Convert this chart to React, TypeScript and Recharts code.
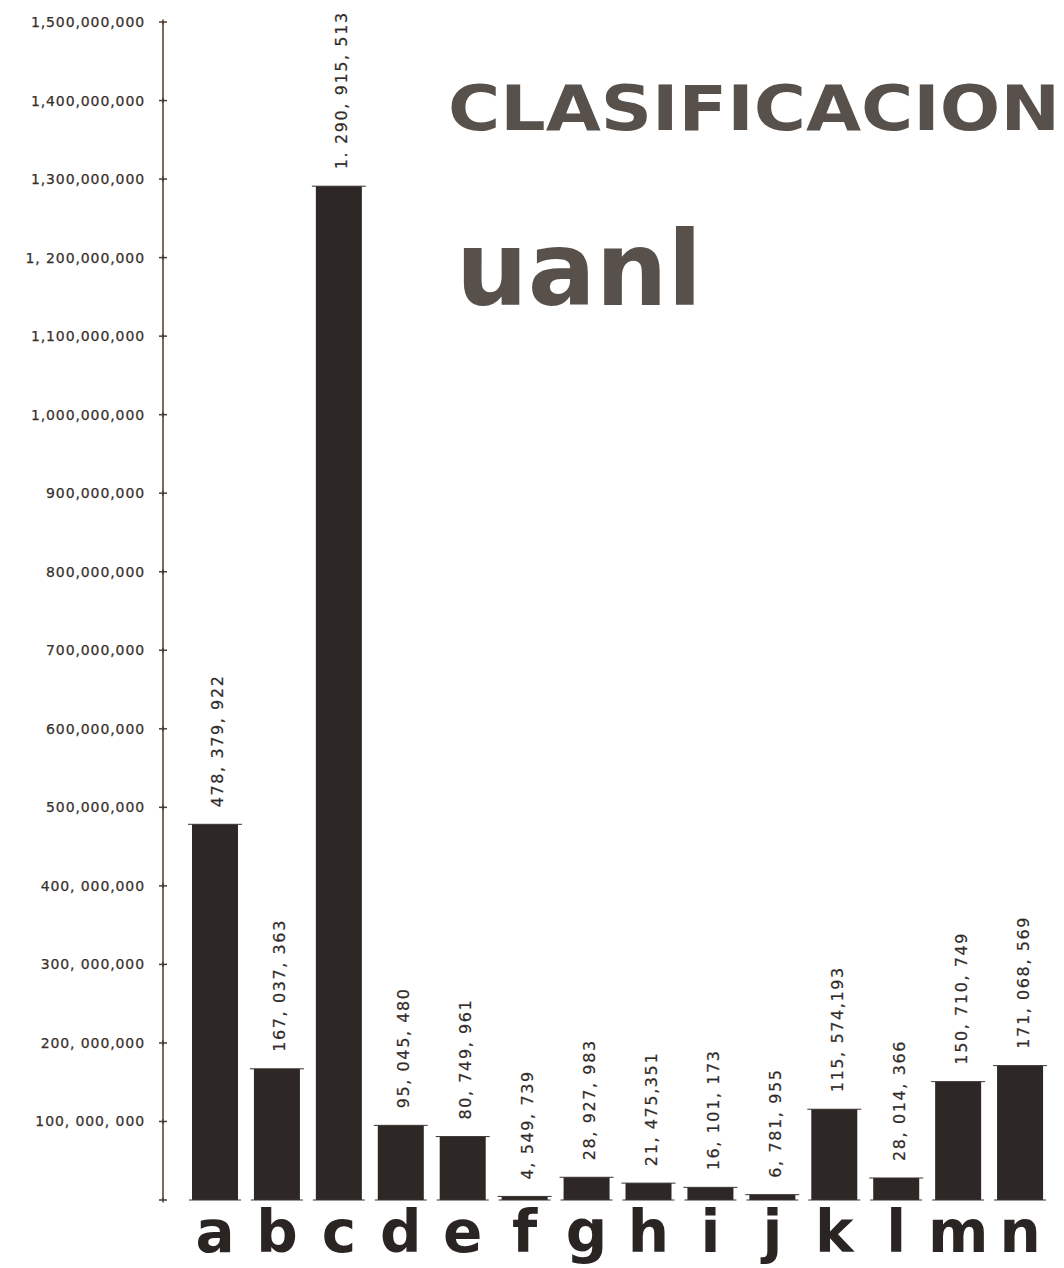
import React from 'react';
import { BarChart, Bar, XAxis, YAxis, LabelList } from 'recharts';

const categories = ['a', 'b', 'c', 'd', 'e', 'f', 'g', 'h', 'i', 'j', 'k', 'l', 'm', 'n'];
const values = [
  478379922, 167037363, 1290915513, 95045480, 80749961, 4549739, 28927983,
  21475351, 16101173, 6781955, 115574193, 28014366, 150710749, 171068569,
];
const valueLabels = [
  '478, 379, 922', '167, 037, 363', '1. 290, 915, 513', '95, 045, 480', '80, 749, 961',
  '4, 549, 739', '28, 927, 983', '21, 475,351', '16, 101, 173', '6, 781, 955',
  '115, 574,193', '28, 014, 366', '150, 710, 749', '171, 068, 569',
];
const yTicks = [
  0, 100000000, 200000000, 300000000, 400000000, 500000000, 600000000, 700000000,
  800000000, 900000000, 1000000000, 1100000000, 1200000000, 1300000000, 1400000000, 1500000000,
];
const yTickLabels = [
  '', '100, 000, 000', '200, 000,000', '300, 000,000', '400, 000,000', '500,000,000',
  '600,000,000', '700,000,000', '800,000,000', '900,000,000', '1,000,000,000',
  '1,100,000,000', '1, 200,000,000', '1,300,000,000', '1,400,000,000', '1,500,000,000',
];
const titleText = 'CLASIFICACION';
const subtitleText = 'uanl';

const data = categories.map((c, i) => ({ cat: c, value: values[i], label: valueLabels[i] }));

const INK = '#2d2826';
const AXIS = '#4a3b30';

const YTick = (props: any) => {
  const { x, y, index } = props;
  return (
    <g>
      <text
        x={x}
        y={y}
        textAnchor="end"
        dominantBaseline="central"
        fontFamily="DejaVu Sans"
        fontSize={14}
        letterSpacing={0.9}
        fill="#38302c"
        stroke="#38302c"
        strokeWidth={0.25}
      >
        {yTickLabels[index]}
      </text>
      <line x1={x + 14} x2={x + 22} y1={y} y2={y} stroke={AXIS} strokeWidth={1.5} />
      <line x1={x + 18} x2={x + 18} y1={y - 2.5} y2={y + 2.5} stroke={AXIS} strokeWidth={1.5} />
    </g>
  );
};

const XTick = (props: any) => {
  const { x, y, payload } = props;
  return (
    <text
      x={x}
      y={y + 52}
      textAnchor="middle"
      fontFamily="DejaVu Sans"
      fontWeight="bold"
      fontSize={58}
      fill="#2a2523"
    >
      {payload.value}
    </text>
  );
};

const BarShape = (props: any) => {
  const { x, y, width, height } = props;
  return (
    <g>
      <rect x={x} y={y} width={width} height={Math.max(height, 0)} fill={INK} />
      <line x1={x - 4} x2={x + width + 4} y1={y} y2={y} stroke="#3a3330" strokeWidth={1} />
      <line x1={x - 3} x2={x + width + 3} y1={y + height} y2={y + height} stroke="#3a3330" strokeWidth={1} />
    </g>
  );
};

const ValueLabel = (props: any) => {
  const { x, y, width, value } = props;
  const cx = x + width / 2 + 3;
  const ty = y - 17;
  return (
    <text
      x={cx}
      y={ty}
      transform={`rotate(-90, ${cx}, ${ty})`}
      textAnchor="start"
      dominantBaseline="central"
      fontFamily="DejaVu Sans"
      fontSize={16}
      letterSpacing={1.6}
      fill="#2f2a28"
      stroke="#2f2a28"
      strokeWidth={0.2}
    >
      {value}
    </text>
  );
};

export default function App() {
  return (
    <div style={{ position: 'absolute', left: 0, top: 0, width: 1064, height: 1268, background: '#fff' }}>
      <BarChart
        width={1064}
        height={1268}
        data={data}
        margin={{ top: 22, right: 13, left: 0, bottom: 0 }}
        barSize={46}
      >
        <XAxis
          dataKey="cat"
          height={68}
          axisLine={false}
          tickLine={false}
          tickSize={0}
          tickMargin={0}
          padding={{ left: 21, right: 0 }}
          tick={<XTick />}
          interval={0}
        />
        <YAxis
          width={163}
          domain={[0, 1500000000]}
          ticks={yTicks}
          interval={0}
          tickLine={false}
          tickSize={0}
          tickMargin={18}
          axisLine={{ stroke: AXIS, strokeWidth: 1.5 }}
          tick={<YTick />}
        />
        <Bar dataKey="value" isAnimationActive={false} shape={<BarShape />}>
          <LabelList dataKey="label" content={<ValueLabel />} />
        </Bar>
      </BarChart>
      <svg
        width={1064}
        height={1268}
        style={{ position: 'absolute', left: 0, top: 0, pointerEvents: 'none' }}
      >
        <text
          x={448}
          y={130}
          fontFamily="DejaVu Sans"
          fontWeight="bold"
          fontSize={62}
          textLength={612}
          lengthAdjust="spacingAndGlyphs"
          fill="#57504b"
        >
          {titleText}
        </text>
        <text
          x={456}
          y={305}
          fontFamily="DejaVu Sans"
          fontWeight="bold"
          fontSize={104}
          textLength={246}
          lengthAdjust="spacingAndGlyphs"
          fill="#57504b"
        >
          {subtitleText}
        </text>
      </svg>
    </div>
  );
}
